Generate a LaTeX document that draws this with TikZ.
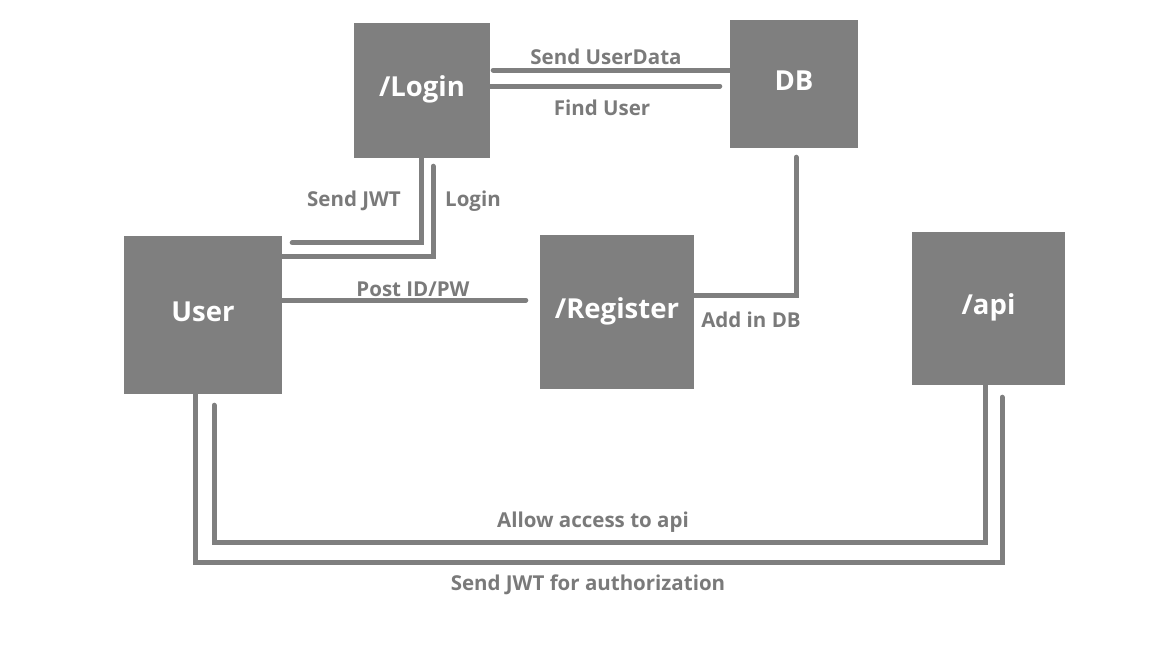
\documentclass[tikz,border=0pt]{standalone}
\usepackage{fontspec}
\setmainfont{Open Sans}
\usetikzlibrary{calc}
\definecolor{boxgray}{RGB}{127,127,127}
\definecolor{labelgray}{RGB}{122,122,122}

\begin{document}
\begin{tikzpicture}[
  x=1pt, y=-1pt,
  block/.style={fill=boxgray, inner sep=0pt, text=white,
                text height=20pt, text depth=8pt,
                font=\bfseries\fontsize{27.5}{32}\selectfont},
  wire/.style={draw=boxgray, line width=5pt, line cap=round},
  tag/.style={text=labelgray, inner sep=0pt,
              font=\bfseries\fontsize{20.5}{24}\selectfont}
]
\useasboundingbox (0,0) rectangle (1152,648);
% boxes
\node[block, minimum width=136pt, minimum height=135pt] (login) at (422,90.5) {/Login};
\node[block, minimum width=128pt, minimum height=128pt] (db) at (794,84) {DB};
\node[block, minimum width=158pt, minimum height=158pt] (user) at (203,315) {User};
\node[block, minimum width=154pt, minimum height=154pt] (register) at (617,312) {/Register};
\node[block, minimum width=153pt, minimum height=153pt] (api) at (988.5,308.5) {/api};
% login <-> db
\draw[wire] ($(login.east)+(3,-20.5)$) coordinate (ud) -- (ud -| db.west);
\draw[wire] ($(login.east)+(0,-4.5)$) coordinate (fu) -- ($(fu -| db.west)+(-10,0)$);
% user <-> login
\draw[wire] ($(login.south)+(-1,0)$) |- ($(user.north east)+(10,7)$);
\draw[wire] ($(login.south)+(11,8)$) |- ($(user.north east)+(0,21)$);
% user -> register -> db
\draw[wire] ($(user.east)+(0,-15)$) coordinate (pw) -- ($(pw -| register.west)+(-14,0)$);
\draw[wire] ($(register.east)+(0,-17)$) -| ($(db.south)+(2,9)$);
% user <-> api
\draw[wire] ($(user.south)+(-8,0)$) -- ++(0,168) -| ($(api.south)+(13.5,12)$);
\draw[wire] ($(user.south)+(11,11)$) -- ++(0,137) -| ($(api.south)+(-3.5,0)$);
% labels
\node[tag] (lud) at (606,57) {Send UserData};
\node[tag] (lfu) at (602,108) {Find User};
\node[tag] (ljwt) at (354,201) {Send JWT};
\node[tag] (llog) at (473,201) {Login};
\node[tag] (lpw) at (413,289) {Post ID/PW};
\node[tag] (ladd) at (751,320) {Add in DB};
\node[tag] (lacc) at (593,522) {Allow access to api};
\node[tag] (lauth) at (588,585) {Send JWT for authorization};
\end{tikzpicture}
\end{document}
